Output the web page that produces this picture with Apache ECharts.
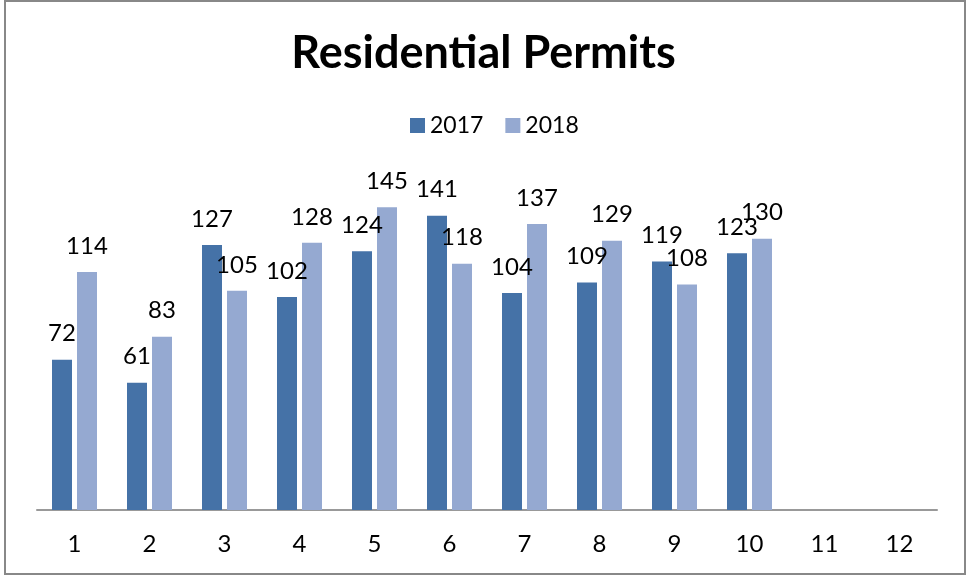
<!DOCTYPE html>
<html>
<head>
<meta charset="utf-8">
<script src="https://cdn.jsdelivr.net/npm/echarts@6/dist/echarts.min.js"></script>
<style>
  html, body { margin: 0; padding: 0; background: #fff; }
  #chart { width: 967px; height: 577px; }
</style>
</head>
<body>
<div id="chart"></div>
<script>
// 数据
const categories = ['1', '2', '3', '4', '5', '6', '7', '8', '9', '10', '11', '12'];
const permits2017 = [72, 61, 127, 102, 124, 141, 104, 109, 119, 123, null, null];
const permits2018 = [114, 83, 105, 128, 145, 118, 137, 129, 108, 130, null, null];

const font = 'Lato, "Open Sans", sans-serif';

let myChart = echarts.init(document.getElementById('chart'));
myChart.setOption({
    animation: false,
    title: {
        text: 'Residential Permits',
        left: 'center',
        top: 26,
        textStyle: { fontFamily: font, fontSize: 45, fontWeight: 'bold', color: '#000' }
    },
    legend: {
        top: 109,
        left: 405,
        itemWidth: 15,
        itemHeight: 15,
        itemGap: 22,
        icon: 'rect',
        textStyle: { fontFamily: font, fontSize: 23, color: '#000' },
        data: ['2017', '2018']
    },
    grid: { left: 37, right: 30, top: 176, bottom: 67 },
    xAxis: {
        type: 'category',
        data: categories,
        axisTick: { show: false },
        axisLine: { lineStyle: { color: '#999', width: 2 } },
        axisLabel: { fontFamily: font, fontSize: 24, color: '#000', margin: 22 }
    },
    yAxis: {
        type: 'value',
        min: 0,
        max: 160,
        show: false
    },
    series: [
        {
            name: '2017',
            type: 'bar',
            data: permits2017,
            barWidth: 20,
            barGap: '25%',
            itemStyle: { color: '#4572A7' },
            label: { show: true, position: 'top', distance: 14, fontFamily: font, fontSize: 24, color: '#000' }
        },
        {
            name: '2018',
            type: 'bar',
            data: permits2018,
            barWidth: 20,
            itemStyle: { color: '#95A9D1' },
            label: { show: true, position: 'top', distance: 14, fontFamily: font, fontSize: 24, color: '#000' }
        }
    ],
    graphic: [{
        type: 'rect',
        shape: { x: 5, y: 1, width: 960, height: 573 },
        style: { fill: 'none', stroke: '#888', lineWidth: 2 },
        silent: true
    }]
});
</script>
</body>
</html>
